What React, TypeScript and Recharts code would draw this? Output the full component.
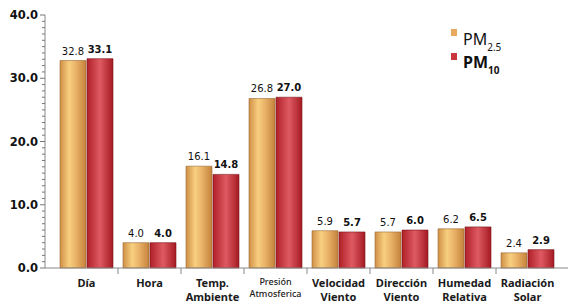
import React from 'react';
import { BarChart, Bar, XAxis, YAxis, LabelList } from 'recharts';

const categories = ['Día', 'Hora', 'Temp.|Ambiente', 'Presión|Atmosferica', 'Velocidad|Viento', 'Dirección|Viento', 'Humedad|Relativa', 'Radiación|Solar'];
const pm25 = [32.8, 4.0, 16.1, 26.8, 5.9, 5.7, 6.2, 2.4];
const pm10 = [33.1, 4.0, 14.8, 27.0, 5.7, 6.0, 6.5, 2.9];
const yTicks = Array.from({ length: 41 }, (_, i) => i);

const data = categories.map((c, i) => ({ name: c, pm25: pm25[i], pm10: pm10[i] }));

const BAND = 63;

const XTick = (props: any) => {
  const { x, y, payload, index } = props;
  const lines: string[] = String(payload.value).split('|');
  const small = payload.value.startsWith('Presión');
  return (
    <g>
      {index < categories.length - 1 && (
        <line x1={x + BAND / 2} x2={x + BAND / 2} y1={268} y2={274} stroke="#888" strokeWidth={1} />
      )}
      {lines.map((l, i) => (
        <text
          key={i}
          x={x}
          y={small ? 285 + i * 12 : 287 + i * 13.5}
          textAnchor="middle"
          fontFamily="'Noto Sans', sans-serif"
          fontWeight={small ? 500 : 700}
          fontSize={small ? 9 : 11}
          fill="#1a1a1a"
        >
          {l}
        </text>
      ))}
    </g>
  );
};

const YTick = (props: any) => {
  const { y, payload } = props;
  const v = payload.value as number;
  const major = v % 10 === 0;
  return (
    <g>
      <line x1={major ? 40 : 42} x2={45} y1={y} y2={y} stroke="#777" strokeWidth={1} />
      {major && (
        <text x={38} y={y + 4} textAnchor="end" fontFamily="'DejaVu Sans', sans-serif" fontWeight={700} fontSize={11.5} fill="#111">
          {v.toFixed(1)}
        </text>
      )}
    </g>
  );
};

export default function App() {
  return (
    <div style={{ position: 'absolute', left: 0, top: 0 }}>
      <BarChart
        width={573}
        height={306}
        data={data}
        margin={{ top: 15, right: 5, bottom: 8, left: 0 }}
        barSize={26}
        barGap={1}
      >
        <defs>
          <linearGradient id="gOr" x1="0" y1="0" x2="1" y2="0">
            <stop offset="0%" stopColor="#cf8f45" />
            <stop offset="35%" stopColor="#f8cf7f" />
            <stop offset="60%" stopColor="#eab46a" />
            <stop offset="100%" stopColor="#c5823a" />
          </linearGradient>
          <linearGradient id="gRd" x1="0" y1="0" x2="1" y2="0">
            <stop offset="0%" stopColor="#b02028" />
            <stop offset="50%" stopColor="#de5a62" />
            <stop offset="100%" stopColor="#a51a22" />
          </linearGradient>
        </defs>
        <XAxis
          dataKey="name"
          interval={0}
          padding={{ left: 10, right: 9 }}
          height={30}
          axisLine={{ stroke: '#888' }}
          tickLine={false}
          tick={<XTick />}
        />
        <YAxis
          domain={[0, 40]}
          ticks={yTicks}
          interval={0}
          width={45}
          axisLine={{ stroke: '#888' }}
          tickLine={false}
          tick={<YTick />}
        />
        <Bar dataKey="pm25" fill="url(#gOr)" stroke="#9a6a35" strokeWidth={0.6} isAnimationActive={false}>
          <LabelList
            dataKey="pm25"
            position="top"
            offset={6}
            formatter={(v: any) => Number(v).toFixed(1)}
            style={{ fontFamily: "'DejaVu Sans', sans-serif", fontSize: 10, fill: '#111', fontWeight: 400 }}
          />
        </Bar>
        <Bar dataKey="pm10" fill="url(#gRd)" stroke="#7a1518" strokeWidth={0.6} isAnimationActive={false}>
          <LabelList
            dataKey="pm10"
            position="top"
            offset={6}
            formatter={(v: any) => Number(v).toFixed(1)}
            style={{ fontFamily: "'DejaVu Sans', sans-serif", fontSize: 10, fill: '#111', fontWeight: 700 }}
          />
        </Bar>
        <g>
          <rect x={451} y={29} width={6} height={7} fill="#e8a95e" />
          <text x={463} y={45} fontFamily="'Noto Sans', sans-serif" fontSize={16} fill="#111">
            PM<tspan fontSize={10} dy={6}>2.5</tspan>
          </text>
          <rect x={451} y={53} width={6} height={7} fill="#c8353b" />
          <text x={463} y={68} fontFamily="'Noto Sans', sans-serif" fontWeight={700} fontSize={16} fill="#111">
            PM<tspan fontSize={10} dy={6}>10</tspan>
          </text>
        </g>
      </BarChart>
    </div>
  );
}
